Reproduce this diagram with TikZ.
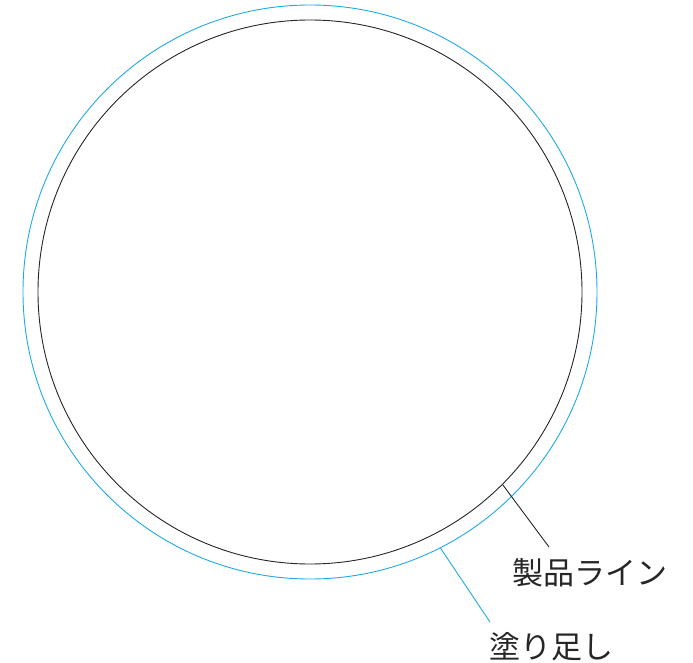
\documentclass[tikz,border=0pt]{standalone}
\usepackage{fontspec}
\newfontfamily\jpfont{Noto Sans CJK JP}
\usetikzlibrary{positioning}
\definecolor{bleedblue}{RGB}{30,170,230}

\tikzset{
    rim/.style={circle, draw, line width=0.9pt, inner sep=0pt},
    lead/.style={line width=0.9pt},
    caption/.style={font=\jpfont\fontsize{31}{31}\selectfont, inner sep=0pt, text=black!85}
}

\begin{document}
\begin{tikzpicture}[x=1pt,y=-1pt]
    \useasboundingbox (0,0) rectangle (693,663);
    \coordinate (c) at (310,292);
    \node[rim, draw=bleedblue, minimum size=574pt] (bleed) at (c) {};
    \node[rim, draw=black!85, minimum size=544pt] (product) at (c) {};
    % labels
    \node[caption] (productlbl) at (590,573) {製品ライン};
    \node[caption] (bleedlbl) at (551,647) {塗り足し};
    \coordinate (productend) at (549,547);
    \coordinate (bleedend) at (490,622);
    \draw[lead, black!85] (product.-45.6) -- (productend);
    \draw[lead, bleedblue] (bleed.-63.6) -- (bleedend);
\end{tikzpicture}
\end{document}
